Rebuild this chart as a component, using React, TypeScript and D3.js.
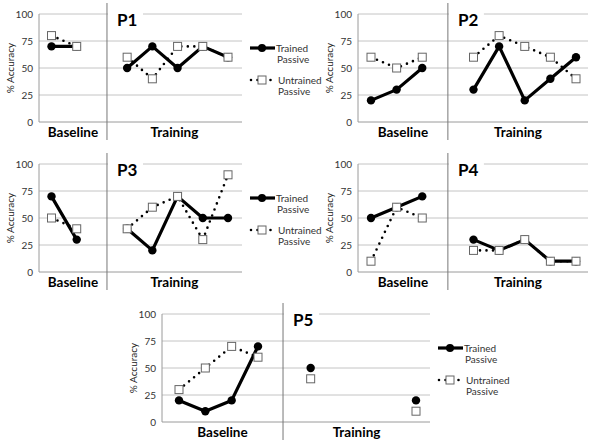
import * as d3 from "d3";

// y axis ticks and the group labels under each panel
const yTicks = [0, 25, 50, 75, 100];
const groupLabels = ["Baseline", "Training"];
const legendTrained = ["Trained", "Passive"];
const legendUntrained = ["Untrained", "Passive"];
const panelNames = ["P1", "P2", "P3", "P4", "P5"];

// null = no session (separator slot / gap)
const p1Trained = [70, 70, null, 50, 70, 50, 70, 60];
const p1Untrained = [80, 70, null, 60, 40, 70, 70, 60];
const p2Trained = [20, 30, 50, null, 30, 70, 20, 40, 60];
const p2Untrained = [60, 50, 60, null, 60, 80, 70, 60, 40];
const p3Trained = [70, 30, null, 40, 20, 70, 50, 50];
const p3Untrained = [50, 40, null, 40, 60, 70, 30, 90];
const p4Trained = [50, 60, 70, null, 30, 20, 30, 10, 10];
const p4Untrained = [10, 60, 50, null, 20, 20, 30, 10, 10];
const p5Trained = [20, 10, 20, 70, null, 50, null, null, null, 20];
const p5Untrained = [30, 50, 70, 60, null, 40, null, null, null, 10];

type Val = number | null;
type Layout = {
  left: number;
  right: number;
  top: number;
  bottom: number;
  first: number;
  last: number;
  sepAt: number;
  legend?: { x: number; y: number };
};

const layouts: Layout[] = [
  { left: 39, right: 242, top: 14, bottom: 122, first: 51.5, last: 228, sepAt: 2.2, legend: { x: 250, y: 48 } },
  { left: 358, right: 588, top: 14, bottom: 122, first: 371, last: 576, sepAt: 3 },
  { left: 39, right: 242, top: 164, bottom: 272, first: 51.5, last: 228, sepAt: 2.2, legend: { x: 250, y: 198 } },
  { left: 358, right: 588, top: 164, bottom: 272, first: 371, last: 576, sepAt: 3 },
  { left: 162, right: 430, top: 314, bottom: 422, first: 179, last: 416, sepAt: 3.95, legend: { x: 438, y: 348 } },
];

const panelData: [Val[], Val[]][] = [
  [p1Trained, p1Untrained],
  [p2Trained, p2Untrained],
  [p3Trained, p3Untrained],
  [p4Trained, p4Untrained],
  [p5Trained, p5Untrained],
];

const font = "Lato, 'Open Sans', sans-serif";
const dotted = { stroke: "#000", strokeWidth: 2.6, strokeDasharray: "0 6.5", strokeLinecap: "round" as const };

function Panel({ name, layout, trained, untrained }: { name: string; layout: Layout; trained: Val[]; untrained: Val[] }) {
  const { left, right, top, bottom, first, last, sepAt, legend } = layout;
  const n = trained.length;
  const x = d3.scaleLinear().domain([0, n - 1]).range([first, last]);
  const y = d3.scaleLinear().domain([0, 100]).range([bottom, top]);
  const line = d3
    .line<Val>()
    .defined((d) => d !== null)
    .x((_, i) => x(i))
    .y((d) => y(d as number));
  const sepX = x(sepAt);

  return (
    <g>
      {yTicks.map((t) => (
        <g key={t}>
          <line x1={left} x2={right} y1={y(t)} y2={y(t)} stroke={t === 0 ? "#9a9a9a" : "#c4c4c4"} strokeWidth={1} />
          <text x={left - 6} y={y(t) + 3.5} textAnchor="end" fontSize={10} fill="#333" fontFamily={font}>
            {t}
          </text>
        </g>
      ))}
      <line x1={left} x2={left} y1={top} y2={bottom} stroke="#9a9a9a" />
      <text
        transform={`translate(${left - 25},${(top + bottom) / 2}) rotate(-90)`}
        textAnchor="middle"
        fontSize={10}
        fill="#222"
        fontFamily={font}
      >
        % Accuracy
      </text>
      {/* title box hides the 100 gridline */}
      <rect x={sepX + 1} y={top - 8} width={35} height={16} fill="#fff" />
      <text x={sepX + 10} y={top + 12} fontSize={17} fontWeight="bold" fontFamily={font} fill="#000">
        {name}
      </text>
      <line x1={sepX} x2={sepX} y1={top - 11} y2={bottom + 18} stroke="#777" strokeWidth={1} />
      <text x={(left + sepX) / 2} y={bottom + 15} textAnchor="middle" fontSize={13.5} fontWeight="bold" fontFamily={font}>
        {groupLabels[0]}
      </text>
      <text x={(sepX + right) / 2} y={bottom + 15} textAnchor="middle" fontSize={13.5} fontWeight="bold" fontFamily={font}>
        {groupLabels[1]}
      </text>

      <path d={line(trained) ?? ""} fill="none" stroke="#000" strokeWidth={3.2} strokeLinejoin="round" />
      {trained.map((d, i) =>
        d === null ? null : <circle key={i} cx={x(i)} cy={y(d)} r={4.2} fill="#000" />
      )}
      <path d={line(untrained) ?? ""} fill="none" {...dotted} />
      {untrained.map((d, i) =>
        d === null ? null : (
          <rect key={i} x={x(i) - 4} y={y(d) - 4} width={8} height={8} fill="#fff" stroke="#666" strokeWidth={1} />
        )
      )}

      {legend && (
        <g fontFamily={font} fontSize={10} fill="#333">
          <line x1={legend.x} x2={legend.x + 25} y1={legend.y} y2={legend.y} stroke="#000" strokeWidth={3.2} />
          <circle cx={legend.x + 12} cy={legend.y} r={4} fill="#000" />
          <text x={legend.x + 26} y={legend.y + 3.5}>{legendTrained[0]}</text>
          <text x={legend.x + 27} y={legend.y + 14.5}>{legendTrained[1]}</text>
          <line x1={legend.x + 1} x2={legend.x + 25} y1={legend.y + 32} y2={legend.y + 32} {...dotted} />
          <rect x={legend.x + 8} y={legend.y + 28} width={8} height={8} fill="#fff" stroke="#666" />
          <text x={legend.x + 28} y={legend.y + 35.5}>{legendUntrained[0]}</text>
          <text x={legend.x + 28} y={legend.y + 46.5}>{legendUntrained[1]}</text>
        </g>
      )}
    </g>
  );
}

export default function App() {
  return (
    <div style={{ position: "absolute", left: 0, top: 0 }}>
      <svg width={600} height={448} style={{ display: "block", background: "#fff" }}>
        {panelNames.map((name, i) => (
          <Panel key={name} name={name} layout={layouts[i]} trained={panelData[i][0]} untrained={panelData[i][1]} />
        ))}
      </svg>
    </div>
  );
}
